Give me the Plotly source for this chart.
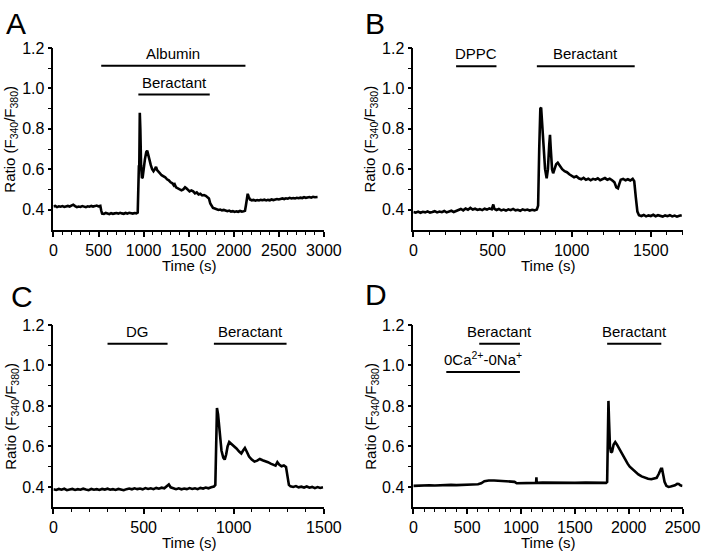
import plotly.graph_objects as go

# ---------------- data ----------------
a_time = [0, 20, 40, 60, 80, 100, 120, 140, 160, 180, 200, 220, 240, 260, 280, 300, 320, 340, 360, 380,
          400, 420, 440, 460, 480, 500, 520, 530, 540, 560, 580, 600, 620, 640, 660, 680, 700, 720, 740,
          760, 780, 800, 820, 840, 860, 880, 900, 920, 935, 942, 948, 952, 958, 964, 972, 982, 990, 1000,
          1015, 1030, 1040, 1050, 1065, 1080, 1095, 1110, 1125, 1138, 1150, 1165, 1180, 1200, 1220, 1240,
          1260, 1280, 1300, 1320, 1335, 1345, 1360, 1380, 1400, 1420, 1440, 1460, 1475, 1490, 1510, 1530,
          1550, 1570, 1590, 1610, 1630, 1650, 1670, 1690, 1710, 1725, 1740, 1755, 1770, 1790, 1810, 1830,
          1850, 1870, 1890, 1910, 1930, 1950, 1970, 1990, 2010, 2030, 2050, 2070, 2090, 2110, 2125, 2135,
          2145, 2155, 2165, 2180, 2200, 2220, 2240, 2260, 2280, 2300, 2320, 2340, 2360, 2380, 2400, 2420,
          2440, 2460, 2480, 2500, 2520, 2540, 2560, 2580, 2600, 2620, 2640, 2660, 2680, 2700, 2720, 2740,
          2760, 2780, 2800, 2820, 2840, 2860, 2880, 2900, 2920, 2930]
a_ratio = [0.415, 0.418, 0.412, 0.416, 0.414, 0.417, 0.413, 0.416, 0.418, 0.415, 0.419, 0.424, 0.417, 0.412,
           0.415, 0.413, 0.417, 0.414, 0.412, 0.416, 0.414, 0.418, 0.415, 0.417, 0.420, 0.416, 0.418, 0.395,
           0.380, 0.378, 0.383, 0.380, 0.377, 0.382, 0.379, 0.381, 0.383, 0.380, 0.384, 0.381, 0.379, 0.383,
           0.380, 0.384, 0.382, 0.380, 0.383, 0.381, 0.385, 0.58, 0.62, 0.60, 0.88, 0.80, 0.62, 0.555, 0.56,
           0.60, 0.65, 0.685, 0.692, 0.675, 0.64, 0.62, 0.60, 0.59, 0.60, 0.612, 0.595, 0.585, 0.58, 0.57,
           0.565, 0.56, 0.55, 0.545, 0.535, 0.53, 0.52, 0.525, 0.51, 0.505, 0.50, 0.495, 0.50, 0.51, 0.505,
           0.50, 0.49, 0.495, 0.49, 0.48, 0.485, 0.475, 0.478, 0.47, 0.472, 0.468, 0.46, 0.455, 0.43, 0.415,
           0.408, 0.405, 0.40, 0.398, 0.40, 0.396, 0.398, 0.394, 0.392, 0.395, 0.39, 0.392, 0.388, 0.391,
           0.389, 0.393, 0.39, 0.392, 0.394, 0.42, 0.46, 0.478, 0.465, 0.45, 0.446, 0.448, 0.444, 0.447,
           0.445, 0.448, 0.446, 0.449, 0.445, 0.448, 0.446, 0.45, 0.447, 0.449, 0.452, 0.45, 0.453, 0.455,
           0.452, 0.456, 0.454, 0.458, 0.455, 0.457, 0.455, 0.458, 0.456, 0.459, 0.457, 0.461, 0.458, 0.46,
           0.462, 0.459, 0.463, 0.461, 0.464, 0.462]

b_time = [0, 15, 30, 45, 60, 75, 90, 105, 120, 135, 150, 165, 180, 195, 210, 225, 240, 255, 270, 285, 300,
          315, 330, 345, 360, 375, 390, 405, 420, 435, 450, 465, 480, 495, 505, 512, 525, 540, 555, 570, 585,
          600, 615, 630, 645, 660, 675, 690, 705, 720, 735, 750, 765, 780, 788, 795, 802, 807, 814, 822, 832,
          842, 850, 858, 863, 868, 876, 883, 892, 902, 912, 925, 940, 955, 970, 985, 1000, 1015, 1030, 1045,
          1060, 1075, 1090, 1105, 1120, 1135, 1150, 1165, 1180, 1195, 1210, 1225, 1240, 1255, 1270, 1282,
          1292, 1300, 1310, 1325, 1340, 1355, 1370, 1385, 1395, 1405, 1415, 1425, 1440, 1455, 1470, 1485,
          1500, 1515, 1530, 1545, 1560, 1575, 1590, 1605, 1620, 1635, 1650, 1665, 1680, 1695]
b_ratio = [0.388, 0.385, 0.390, 0.384, 0.389, 0.386, 0.391, 0.385, 0.388, 0.392, 0.386, 0.390, 0.387, 0.393,
           0.386, 0.389, 0.394, 0.388, 0.392, 0.398, 0.403, 0.396, 0.405, 0.399, 0.408, 0.400, 0.404, 0.398,
           0.402, 0.397, 0.404, 0.400, 0.406, 0.401, 0.425, 0.403, 0.398, 0.403, 0.396, 0.400, 0.395, 0.401,
           0.397, 0.403, 0.396, 0.399, 0.394, 0.401, 0.397, 0.400, 0.395, 0.399, 0.396, 0.400, 0.42, 0.70,
           0.90, 0.905, 0.82, 0.70, 0.60, 0.555, 0.60, 0.72, 0.77, 0.70, 0.60, 0.58, 0.60, 0.625, 0.632,
           0.615, 0.60, 0.59, 0.585, 0.575, 0.568, 0.560, 0.565, 0.555, 0.55, 0.557, 0.548, 0.553, 0.545,
           0.552, 0.548, 0.555, 0.545, 0.55, 0.556, 0.548, 0.553, 0.545, 0.535, 0.51, 0.505, 0.525, 0.548,
           0.552, 0.545, 0.55, 0.544, 0.552, 0.54, 0.46, 0.39, 0.372, 0.368, 0.373, 0.366, 0.371, 0.368,
           0.374, 0.367, 0.372, 0.369, 0.365, 0.371, 0.367, 0.372, 0.366, 0.370, 0.365, 0.369, 0.372]

c_time = [0, 15, 30, 45, 60, 75, 90, 105, 120, 135, 150, 165, 180, 195, 210, 225, 240, 255, 270, 285, 300,
          315, 330, 345, 360, 375, 390, 405, 420, 435, 450, 465, 480, 495, 510, 525, 540, 555, 570, 585, 600,
          615, 630, 640, 650, 665, 680, 695, 710, 725, 740, 755, 770, 785, 800, 815, 830, 845, 860, 875, 890,
          898, 902, 907, 913, 922, 932, 942, 950, 958, 966, 975, 985, 1000, 1015, 1030, 1042, 1052, 1062,
          1072, 1085, 1100, 1115, 1130, 1145, 1160, 1175, 1190, 1205, 1220, 1232, 1242, 1252, 1265, 1278,
          1290, 1298, 1306, 1315, 1330, 1345, 1360, 1375, 1390, 1405, 1420, 1435, 1450, 1465, 1480, 1495]
c_ratio = [0.388, 0.385, 0.390, 0.386, 0.391, 0.384, 0.387, 0.390, 0.385, 0.389, 0.386, 0.391, 0.387, 0.384,
           0.390, 0.386, 0.389, 0.385, 0.390, 0.387, 0.391, 0.386, 0.389, 0.385, 0.390, 0.387, 0.384, 0.389,
           0.392, 0.388, 0.393, 0.389, 0.392, 0.388, 0.394, 0.390, 0.393, 0.389, 0.395, 0.391, 0.396, 0.393,
           0.405, 0.412, 0.398, 0.392, 0.389, 0.393, 0.388, 0.392, 0.389, 0.394, 0.390, 0.393, 0.389, 0.395,
           0.392, 0.397, 0.393, 0.398, 0.402, 0.41, 0.60, 0.79, 0.76, 0.66, 0.58, 0.545, 0.535, 0.56, 0.60,
           0.622, 0.615, 0.60, 0.59, 0.575, 0.565, 0.58, 0.592, 0.575, 0.55, 0.535, 0.525, 0.53, 0.538,
           0.532, 0.528, 0.522, 0.515, 0.508, 0.505, 0.522, 0.51, 0.502, 0.506, 0.498, 0.46, 0.41, 0.403,
           0.400, 0.404, 0.398, 0.401, 0.397, 0.402, 0.396, 0.400, 0.394, 0.399, 0.395, 0.398]

d_time = [0, 50, 100, 150, 200, 250, 300, 350, 400, 450, 500, 550, 600, 630, 660, 700, 750, 800, 850, 900,
          940, 960, 1000, 1050, 1100, 1140, 1143, 1146, 1200, 1300, 1400, 1500, 1600, 1700, 1790, 1800, 1808,
          1812, 1818, 1826, 1836, 1846, 1860, 1875, 1890, 1910, 1930, 1950, 1970, 1990, 2010, 2030, 2060,
          2090, 2120, 2150, 2180, 2210, 2240, 2260, 2280, 2300, 2310, 2320, 2333, 2350, 2370, 2390, 2410,
          2430, 2450, 2465, 2480, 2500]
d_ratio = [0.405, 0.407, 0.406, 0.408, 0.407, 0.409, 0.408, 0.410, 0.409, 0.411, 0.410, 0.412, 0.413, 0.418,
           0.428, 0.432, 0.432, 0.430, 0.428, 0.426, 0.425, 0.418, 0.419, 0.420, 0.419, 0.420, 0.448, 0.420,
           0.421, 0.420, 0.421, 0.420, 0.421, 0.421, 0.420, 0.425, 0.70, 0.825, 0.72, 0.60, 0.57, 0.575, 0.61,
           0.622, 0.61, 0.59, 0.57, 0.55, 0.53, 0.515, 0.50, 0.49, 0.475, 0.462, 0.452, 0.445, 0.44, 0.438,
           0.44, 0.445, 0.465, 0.49, 0.49, 0.465, 0.425, 0.405, 0.40, 0.402, 0.405, 0.408, 0.415, 0.414,
           0.408, 0.405]

# treatment bars: label, start, end, level
a_bar_labels = ["Albumin", "Beractant"]
a_bar_start = [530, 942]
a_bar_end = [2130, 1734]
a_bar_level = [1.112, 0.970]

b_bar_labels = ["DPPC", "Beractant"]
b_bar_start = [270, 780]
b_bar_end = [525, 1398]
b_bar_level = [1.110, 1.110]

c_bar_labels = ["DG", "Beractant"]
c_bar_start = [300, 890]
c_bar_end = [633, 1293]
c_bar_level = [1.108, 1.108]

d_bar_labels = ["Beractant", "0Ca<sup>2+</sup>-0Na<sup>+</sup>", "Beractant"]
d_bar_start = [612, 306, 1800]
d_bar_end = [990, 990, 2303]
d_bar_level = [1.108, 0.968, 1.108]

x_ranges = [3000, 1700, 1500, 2500]
x_tickmax = [3000, 1500, 1500, 2500]
y_ticks = [0.4, 0.6, 0.8, 1.0, 1.2]
y_minor = [0.5, 0.7, 0.9, 1.1]
panel_letters = ["A", "B", "C", "D"]

# ---------------- figure ----------------
W, H = 717, 551
FONT = "Arial, Liberation Sans, sans-serif"

def px_x(p):
    return p / W

def px_y(p):
    return 1 - p / H

dom_x = [[px_x(51), px_x(330)], [px_x(422.3), px_x(700)]]
dom_y_top = [px_y(225), px_y(40.7)]
dom_y_bot = [px_y(506.5), px_y(321.7)]
domains = [(dom_x[0], dom_y_top), (dom_x[1], dom_y_top), (dom_x[0], dom_y_bot), (dom_x[1], dom_y_bot)]

fig = go.Figure()
series = [(a_time, a_ratio), (b_time, b_ratio), (c_time, c_ratio), (d_time, d_ratio)]
bars = [(a_bar_labels, a_bar_start, a_bar_end, a_bar_level),
        (b_bar_labels, b_bar_start, b_bar_end, b_bar_level),
        (c_bar_labels, c_bar_start, c_bar_end, c_bar_level),
        (d_bar_labels, d_bar_start, d_bar_end, d_bar_level)]

layout = dict(width=W, height=H, margin=dict(l=0, r=0, t=0, b=0),
              paper_bgcolor="white", plot_bgcolor="white", showlegend=False,
              font=dict(family=FONT, size=15, color="black"))
shapes = []
annotations = []

for i, (t, r) in enumerate(series):
    n = "" if i == 0 else str(i + 1)
    xa, ya = "x" + n, "y" + n
    fig.add_trace(go.Scatter(x=t, y=r, mode="lines", xaxis=xa, yaxis=ya,
                             line=dict(color="black", width=2.6), hoverinfo="skip"))
    dx, dy = domains[i]
    layout["xaxis" + n] = dict(domain=dx, anchor=ya, range=[0, x_ranges[i]],
                               tickvals=list(range(0, x_tickmax[i] + 1, 500)),
                               showline=True, linecolor="black", linewidth=1.6,
                               ticks="outside", ticklen=5, tickwidth=1.5, tickcolor="black",
                               showgrid=False, zeroline=False,
                               tickfont=dict(size=16, family=FONT),
                               minor=dict(dtick=100, tick0=0, ticks="outside", ticklen=3,
                                          tickwidth=1.3, tickcolor="black", showgrid=False))
    layout["yaxis" + n] = dict(domain=dy, anchor=xa, range=[0.3, 1.2],
                               tickvals=y_ticks, tickformat=".1f",
                               showline=True, linecolor="black", linewidth=1.6,
                               ticks="outside", ticklen=4, tickwidth=1.5, tickcolor="black",
                               showgrid=False, zeroline=False,
                               tickfont=dict(size=16, family=FONT),
                               minor=dict(tickmode="array", tickvals=y_minor, ticks="outside",
                                          ticklen=4, tickwidth=1.3, tickcolor="black", showgrid=False))
    labels, starts, ends, levels = bars[i]
    for lab, s, e, lv in zip(labels, starts, ends, levels):
        shapes.append(dict(type="line", xref=xa, yref=ya, x0=s, x1=e, y0=lv, y1=lv,
                           line=dict(color="black", width=2)))
        annotations.append(dict(xref=xa, yref=ya, x=(s + e) / 2, y=lv, text=lab,
                                showarrow=False, yanchor="bottom", yshift=2,
                                font=dict(size=15, family=FONT)))
    axis_center_x = (dx[0] + dx[1]) / 2
    axis_center_y = (dy[0] + dy[1]) / 2
    annotations.append(dict(xref="paper", yref="paper", x=axis_center_x,
                            y=dy[0] - 36 / H, text="Time (s)", showarrow=False,
                            xanchor="center", yanchor="middle", font=dict(size=15, family=FONT)))
    annotations.append(dict(xref="paper", yref="paper", x=dx[0] - 44 / W,
                            y=axis_center_y, text="Ratio (F<sub>340</sub>/F<sub>380</sub>)",
                            textangle=-90, showarrow=False, xanchor="center", yanchor="middle",
                            font=dict(size=15, family=FONT)))

letter_pos = [(0, 14), (370, 14), (5, 291), (370, 289)]
for L, (lx, ly) in zip(panel_letters, letter_pos):
    annotations.append(dict(xref="paper", yref="paper", x=px_x(lx), y=px_y(ly + 2), text=L,
                            showarrow=False, xanchor="left", yanchor="middle",
                            font=dict(size=30, family=FONT)))

layout["shapes"] = shapes
layout["annotations"] = annotations
fig.update_layout(**layout)
fig.write_html("out.html", config={"displayModeBar": False},
               post_script="document.body.style.margin='0';document.body.style.overflow='hidden';")
